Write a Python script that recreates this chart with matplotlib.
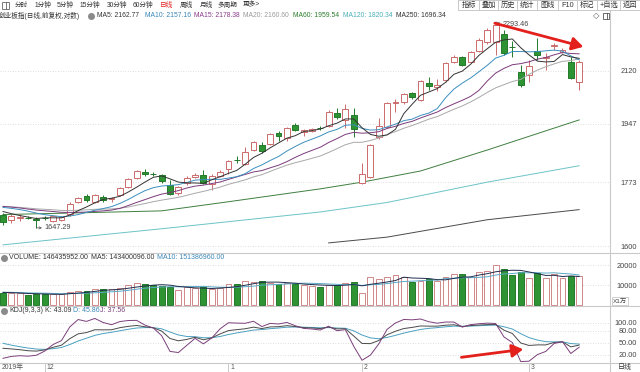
import numpy as np
import pandas as pd
import matplotlib
matplotlib.use("Agg")
import matplotlib.pyplot as plt
from matplotlib.patches import Rectangle
from matplotlib.ticker import FixedLocator, NullLocator, NullFormatter
from matplotlib.transforms import blended_transform_factory

plt.rcParams['font.family'] = ['Liberation Sans', 'Noto Sans CJK SC', 'DejaVu Sans']

# ---------------- data ----------------
opens = [1682, 1668, 1674, 1675, 1671, 1674, 1666, 1668, 1685, 1718,
         1734, 1717, 1731, 1725, 1737, 1759, 1785, 1802, 1797, 1793,
         1765, 1742, 1771, 1788, 1793, 1768, 1791, 1811, 1838, 1825,
         1867, 1882, 1885, 1919, 1903, 1944, 1922, 1925, 1935, 1941,
         1981, 1959, 1975, 1771, 1788, 1906, 1937, 2015, 2017, 2046,
         2023, 2079, 2066, 2089, 2151, 2168, 2151, 2189, 2221, 2221,
         2250, 2205, 2116, 2106, 2189, 2166, 2208, 2186, 2151, 2083]
highs = [1687, 1685, 1685, 1680, 1676, 1678, 1682, 1680, 1717, 1731,
         1740, 1740, 1737, 1732, 1758, 1785, 1808, 1812, 1802, 1797,
         1779, 1762, 1790, 1799, 1808, 1795, 1808, 1837, 1850, 1876,
         1895, 1891, 1920, 1925, 1937, 1950, 1931, 1934, 1940, 1990,
         1997, 2010, 1997, 1828, 1885, 1966, 2017, 2027, 2046, 2050,
         2089, 2100, 2093, 2151, 2175, 2172, 2190, 2235, 2270, 2293.46,
         2264, 2225, 2140, 2158, 2235, 2182, 2218, 2200, 2168, 2158]
lows = [1655, 1660, 1665, 1670, 1647.29, 1668, 1663, 1665, 1680, 1715,
        1718, 1715, 1717, 1718, 1734, 1756, 1782, 1790, 1790, 1770,
        1737, 1737, 1765, 1785, 1768, 1751, 1788, 1796, 1828, 1822,
        1864, 1858, 1882, 1895, 1895, 1925, 1910, 1922, 1928, 1938,
        1963, 1934, 1906, 1768, 1785, 1900, 1934, 1985, 2010, 2028,
        2020, 2056, 2053, 2083, 2147, 2137, 2147, 2186, 2215, 2175,
        2175, 2168, 2066, 2083, 2158, 2123, 2193, 2182, 2093, 2056]
closes = [1663, 1679, 1677, 1674, 1668, 1673, 1679, 1676, 1712, 1728,
          1723, 1737, 1723, 1727, 1756, 1782, 1805, 1796, 1795, 1776,
          1740, 1759, 1785, 1793, 1771, 1791, 1802, 1834, 1836, 1861,
          1891, 1864, 1916, 1910, 1934, 1928, 1928, 1931, 1934, 1985,
          1969, 1994, 1931, 1796, 1882, 1941, 2014, 2017, 2043, 2033,
          2086, 2069, 2073, 2147, 2168, 2140, 2186, 2228, 2264, 2283,
          2182, 2202, 2073, 2137, 2175, 2168, 2210, 2193, 2096, 2151]
volumes = [6150, 5800, 5800, 5000, 5500, 5500, 5300, 5300, 6700, 7000,
           7200, 7800, 8000, 7800, 8300, 10000, 10800, 10500, 10000, 9500,
           8800, 7500, 8800, 8300, 8800, 7800, 8700, 10300, 10300, 12200,
           11700, 12200, 10800, 10300, 10800, 10500, 10000, 9500, 9200, 10000,
           10000, 10800, 11300, 5800, 13800, 12800, 13800, 15000, 14200, 11700,
           12200, 13000, 12200, 13800, 15300, 15300, 13800, 16700, 17200, 20000,
           18000, 15000, 16300, 13300, 16000, 13300, 15300, 13300, 14700, 14644]  # x1万

# context before the first visible candle (estimated, for the moving averages / KDJ)
prior_close = [1704, 1710, 1714, 1708, 1700, 1704, 1712, 1718, 1710, 1704,
               1706, 1710, 1716, 1722, 1715, 1708, 1702, 1695, 1688]
prior_high = [1716, 1722, 1728, 1730, 1722, 1714, 1708, 1700]
prior_low = [1700, 1705, 1710, 1712, 1706, 1698, 1690, 1682]
prior_volume = [6400, 6600, 6900, 6300, 6100, 6500, 6700, 6200, 6000]
kdj_first_K, kdj_first_D = 36.6, 49.0

# long moving averages (candle index, value)
ma60_idx = [0, 8, 19, 27, 38, 43, 50, 58, 69]
ma60_val = [1683, 1687, 1693, 1718, 1754, 1773, 1805, 1867, 1959.54]
ma120_idx = [0, 19, 38, 46, 58, 69]
ma120_val = [1603, 1645, 1690, 1716, 1773, 1820.34]
ma250_idx = [39, 46, 58, 69]
ma250_val = [1608, 1623, 1669, 1696.34]

price_ticks = [1600, 1773, 1947, 2120]
vol_ticks = [10000, 20000]
kdj_ticks = [20, 50, 80, 100]
kdj_tick_labels = ['20.00', '50.00', '80.00', '100.00']
date_tick_idx = [5, 27, 43, 63]
date_tick_labels = ['12', '1', '2', '3']

toolbar_items = ['分时', '1分钟', '5分钟', '15分钟', '30分钟', '60分钟', '日线', '周线', '月线', '多周期', '更多>']
toolbar_x = [15, 35, 57, 80, 107, 133, 160, 180, 200, 218, 243]
buttons = ['指标', '叠加', '历史', '统计', '图线', 'F10', '标记', '+自选', '返回']
button_edges = [458, 479, 498, 517, 537, 558, 577, 597, 620, 640]

header_items = [('MA5: 2162.77', 97, '#333333'), ('MA10: 2157.16', 145, '#3a86b8'),
                ('MA15: 2178.38', 194, '#8a3c8a'), ('MA20: 2160.60', 243, '#9a9a9a'),
                ('MA60: 1959.54', 293, '#2e7d2e'), ('MA120: 1820.34', 343, '#4bb0b8'),
                ('MA250: 1696.34', 396, '#333333')]
vol_header = [('VOLUME: 146435952.00', 9, '#333333'), ('MA5: 143400096.00', 91, '#333333'),
              ('MA10: 151386960.00', 157, '#3a86b8')]
kdj_header = [('KDJ(9,3,3)', 9, '#333333'), ('K: 43.09', 45, '#333333'),
              ('D: 45.86', 73, '#3a86b8'), ('J: 37.56', 100, '#7b3f7b')]

# colours
UP = '#cc6b6b'
DN_FACE = '#2e9332'
DN_EDGE = '#23792a'
C_MA5, C_MA10, C_MA15, C_MA20 = '#333333', '#3a8fbf', '#7b3a7b', '#a8a8a8'
C_MA60, C_MA120, C_MA250 = '#3f7f3f', '#6cc3c8', '#4a4a4a'
SEP = '#c9c9c9'
GRID = '#d4d4d4'
ARROW = '#e3201b'
FS_NUM = 4.9
FS_CJK = 4.8

# ---------------- derived series ----------------
n = len(closes)
x = np.arange(n)
o = np.array(opens, float); c = np.array(closes, float)
h = np.array(highs, float); l = np.array(lows, float)
up = c >= o
body_lo = np.minimum(o, c); body_hi = np.maximum(o, c)

cl_all = pd.Series(prior_close + closes, dtype=float)
ma = {k: cl_all.rolling(k).mean().values[-n:] for k in (5, 10, 15, 20)}
v_all = pd.Series(prior_volume + volumes, dtype=float)
vma5 = v_all.rolling(5).mean().values[-n:]
vma10 = v_all.rolling(10).mean().values[-n:]

hh = pd.Series(prior_high + highs, dtype=float).rolling(9).max().values[8:]
ll = pd.Series(prior_low + lows, dtype=float).rolling(9).min().values[8:]
cc = np.array(prior_close[-8:] + closes, float)[8:]
rsv = (cc - ll) / (hh - ll) * 100
K = [kdj_first_K]; D = [kdj_first_D]
for r in rsv[1:]:
    k = 2 / 3 * K[-1] + r / 3
    d = 2 / 3 * D[-1] + k / 3
    K.append(k); D.append(d)
K = np.array(K); D = np.array(D); J = 3 * K - 2 * D

# ---------------- figure ----------------
W, H = 640, 372
PX0, PXS = 3.0, 8.35
fig = plt.figure(figsize=(W / 100, H / 100), dpi=100)
fig.patch.set_facecolor('white')


def add_ax(x0, y0, x1, y1):
    a = fig.add_axes([x0 / W, 1 - y1 / H, (x1 - x0) / W, (y1 - y0) / H])
    a.set_xlim((x0 - PX0) / PXS, (x1 - PX0) / PXS)
    for s in a.spines.values():
        s.set_visible(False)
    a.set_xticks([])
    a.patch.set_alpha(0)
    return a


def right_labels(a, ticks, labels):
    a.yaxis.set_major_locator(FixedLocator(ticks))
    a.yaxis.set_minor_locator(NullLocator())
    a.yaxis.set_minor_formatter(NullFormatter())
    a.set_yticklabels(labels)
    a.tick_params(axis='y', which='both', length=0, left=False, right=False,
                  labelleft=False, labelright=True, labelsize=5.3,
                  labelcolor='#444444', pad=27 * 0.72)
    for t in a.get_yticklabels():
        t.set_horizontalalignment('right')
    a.grid(axis='y', which='major', linestyle=(0, (1, 2)), color=GRID, lw=0.6)


# main price panel
ax = add_ax(0, 21, 610, 253)
ax.set_yscale('log')
ax.set_ylim(1582.1, 2297.3)
right_labels(ax, price_ticks, [str(t) for t in price_ticks])

ax.plot(ma60_idx, ma60_val, color=C_MA60, lw=0.7, zorder=2)
ax.plot(ma120_idx, ma120_val, color=C_MA120, lw=0.7, zorder=2)
ax.plot(ma250_idx, ma250_val, color=C_MA250, lw=0.7, zorder=2)

wick_col = np.where(up, UP, DN_EDGE)
ax.vlines(x, l, body_lo, colors=wick_col, lw=0.7, zorder=3)
ax.vlines(x, body_hi, h, colors=wick_col, lw=0.7, zorder=3)
ax.bar(x, np.maximum(body_hi - body_lo, 0.3), bottom=body_lo, width=0.7,
       color=np.where(up, 'white', DN_FACE), edgecolor=np.where(up, UP, DN_EDGE),
       linewidth=0.7, zorder=3)

ax.plot(x, ma[20], color=C_MA20, lw=0.7, zorder=4)
ax.plot(x, ma[15], color=C_MA15, lw=0.7, zorder=4)
ax.plot(x, ma[10], color=C_MA10, lw=0.7, zorder=4)
ax.plot(x, ma[5], color=C_MA5, lw=0.7, zorder=4)

hi_i = int(np.argmax(h)); lo_i = int(np.argmin(l))
ax.annotate(f'{h[hi_i]:.2f}', xy=(hi_i, h[hi_i]), xytext=(hi_i + 0.8, h[hi_i] * 0.996),
            fontsize=FS_NUM + 0.3, color='#444444', va='center', ha='left', zorder=6,
            arrowprops=dict(arrowstyle='-', lw=0.5, color='#555555', shrinkA=0, shrinkB=0))
ax.annotate(f'{l[lo_i]:.2f}', xy=(lo_i, l[lo_i]), xytext=(lo_i + 1.0, l[lo_i]),
            fontsize=FS_NUM + 0.3, color='#444444', va='center', ha='left', zorder=6,
            arrowprops=dict(arrowstyle='<-', lw=0.5, color='#555555', shrinkA=0, shrinkB=0,
                            mutation_scale=4))
ax.annotate('', xy=(69.5, 2204), xytext=(58.9, 2289),
            arrowprops=dict(arrowstyle='-|>,head_length=0.55,head_width=0.32', color=ARROW,
                            lw=2.0, shrinkA=0, shrinkB=0, mutation_scale=12), zorder=7)

# volume panel
axv = add_ax(0, 253, 610, 306)
axv.set_ylim(-500, 26000)
right_labels(axv, vol_ticks, [str(t) for t in vol_ticks])
axv.bar(x, volumes, width=0.7, color=np.where(up, 'white', DN_FACE),
        edgecolor=np.where(up, '#d08888', DN_EDGE), linewidth=0.7, zorder=3)
axv.plot(x, vma10, color='#5aa9c6', lw=0.7, zorder=4)
axv.plot(x, vma5, color='#1f2d4d', lw=0.7, zorder=4)

# KDJ panel
axk = add_ax(0, 306, 610, 363)
axk.set_ylim(0.17, 141.4)
right_labels(axk, kdj_ticks, kdj_tick_labels)
axk.plot(x, D, color='#4aa0c0', lw=0.7, zorder=3)
axk.plot(x, K, color='#4a4a4a', lw=0.7, zorder=3)
axk.plot(x, J, color='#7b3f7b', lw=0.7, zorder=3)
axk.annotate('', xy=(62.3, 34.1), xytext=(54.9, 14.3),
             arrowprops=dict(arrowstyle='-|>,head_length=0.55,head_width=0.32', color=ARROW,
                             lw=2.0, shrinkA=0, shrinkB=0, mutation_scale=12), zorder=7)

# overlay in pixel coordinates for chrome
ov = fig.add_axes([0, 0, 1, 1])
ov.set_xlim(0, W); ov.set_ylim(H, 0); ov.axis('off')

for yy in (253, 306, 363):
    ov.plot([0, W], [yy, yy], color=SEP, lw=0.8)
ov.plot([610, 610], [10, H], color=SEP, lw=0.8)

# toolbar
ov.add_patch(Rectangle((2, 1.5), 7, 7, fill=False, ec='#666666', lw=0.6))
ov.plot([5.5, 5.5], [1.5, 8.5], color='#666666', lw=0.6)
for lab, xx in zip(toolbar_items, toolbar_x):
    ov.text(xx, 5.2, lab, fontsize=FS_CJK, va='center', ha='left',
            color='#e02020' if lab == '日线' else '#333333')
for i, lab in enumerate(buttons):
    x0, x1 = button_edges[i], button_edges[i + 1]
    ov.add_patch(Rectangle((x0, 0.3), x1 - x0, 9.7, fc='white', ec=SEP, lw=0.7))
    ov.text((x0 + x1) / 2, 5.2, lab, fontsize=5.2, va='center', ha='center', color='#333333')

# header line
ov.text(-1, 15.5, '创业板指(日线,前复权,对数)', fontsize=FS_CJK, va='center', ha='left', color='#333333')
ov.plot(91, 15.5, 'o', ms=4.0, color='#8a8a8a')
for lab, xx, col in header_items:
    ov.text(xx, 15.5, lab, fontsize=FS_NUM, va='center', ha='left', color=col)
ov.text(596, 15.5, '◇', fontsize=6, va='center', ha='center', color='#555555',
        family=['DejaVu Sans'])
ov.add_patch(Rectangle((602.5, 12.5), 6, 6, fill=False, ec='#555555', lw=0.6))
ov.plot([606.5, 606.5], [12.5, 18.5], color='#555555', lw=0.6)

# volume / kdj headers
ov.plot(4, 257.5, 'o', ms=4.0, color='#8a8a8a')
for lab, xx, col in vol_header:
    ov.text(xx, 257.5, lab, fontsize=5.0, va='center', ha='left', color=col)
ov.plot(4, 311, 'o', ms=4.0, color='#8a8a8a')
for lab, xx, col in kdj_header:
    ov.text(xx, 311, lab, fontsize=5.0, va='center', ha='left', color=col)

ov.add_patch(Rectangle((612, 297), 16, 8, fill=False, ec=SEP, lw=0.6))
ov.text(620, 301.2, 'X1万', fontsize=4.6, va='center', ha='center', color='#444444')
ov.text(625, 367.5, '日线', fontsize=5.0, va='center', ha='center', color='#333333')

# date axis
bt = blended_transform_factory(axk.transData, ov.transData)
ov.text(2, 367.8, '2019年', fontsize=FS_NUM, va='center', ha='left', color='#555555')
for idx, lab in zip(date_tick_idx, date_tick_labels):
    ov.plot([idx, idx], [363, 371], color=SEP, lw=0.7, transform=bt)
    ov.text(idx + 0.25, 367.8, lab, fontsize=FS_NUM, va='center', ha='left',
            color='#555555', transform=bt)

fig.savefig('out.png', dpi=100, facecolor='white')
